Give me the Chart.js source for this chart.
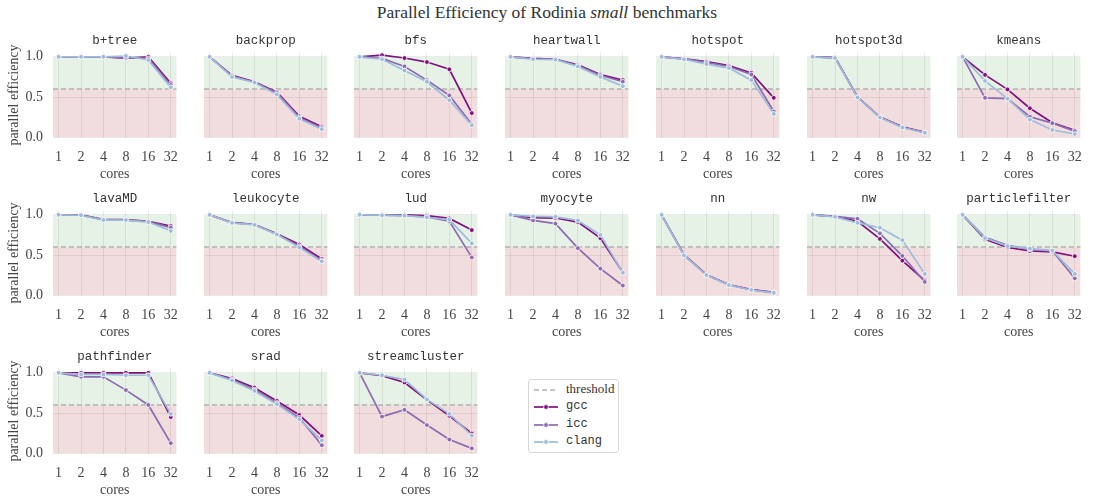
<!DOCTYPE html>
<html>
<head>
<meta charset="utf-8">
<script src="https://cdn.jsdelivr.net/npm/chart.js@4.4.1/dist/chart.umd.min.js"></script>
<style>
html, body { margin: 0; padding: 0; background: #fff; }
#wrap { position: relative; width: 1094px; height: 499px; overflow: hidden; }
#title { position: absolute; left: 0; top: 2px; width: 1094px; text-align: center;
         font: 17.5px "Liberation Serif", serif; color: #333; }
.cell { position: absolute; }
#legend { position: absolute; left: 528px; top: 379px; width: 89px; height: 72px;
          border: 1px solid #d6d6d6; border-radius: 3px; background: #fff; }
.item { position: absolute; left: 0; height: 14px; }
.item svg { position: absolute; left: 4px; top: 0; }
.item span { position: absolute; left: 37px; top: -1px; font-size: 12px; color: #333; white-space: nowrap; }
.serif { font-family: "Liberation Serif", serif; font-size: 13px !important; top: -2px !important; }
.mono { font-family: "Liberation Mono", monospace; }
</style>
</head>
<body>
<div id="wrap">
  <div id="title">Parallel Efficiency of Rodinia <i>small</i> benchmarks</div>
  <div id="legend"></div>
</div>
<script>
const cores = ['1', '2', '4', '8', '16', '32'];
const yTicks = [0, 0.5, 1.0];
const threshold = 0.6;
const benchmarks = ['b+tree', 'backprop', 'bfs', 'heartwall', 'hotspot', 'hotspot3d', 'kmeans',
                    'lavaMD', 'leukocyte', 'lud', 'myocyte', 'nn', 'nw', 'particlefilter',
                    'pathfinder', 'srad', 'streamcluster'];

const gcc = [
  [1.0, 1.0, 1.0, 0.985, 1.0, 0.67],
  [1.0, 0.77, 0.69, 0.56, 0.26, 0.13],
  [1.0, 1.02, 0.985, 0.935, 0.845, 0.30],
  [1.0, 0.98, 0.97, 0.90, 0.78, 0.71],
  [1.0, 0.975, 0.94, 0.89, 0.80, 0.49],
  [1.0, 0.99, 0.50, 0.25, 0.13, 0.06],
  [1.0, 0.775, 0.595, 0.36, 0.18, 0.085],
  [1.0, 1.0, 0.94, 0.94, 0.92, 0.86],
  [1.0, 0.905, 0.88, 0.765, 0.63, 0.45],
  [1.0, 1.0, 1.0, 0.99, 0.955, 0.81],
  [1.0, 0.965, 0.96, 0.91, 0.71, 0.285],
  [1.0, 0.50, 0.255, 0.13, 0.07, 0.035],
  [1.0, 0.98, 0.92, 0.70, 0.43, 0.18],
  [1.0, 0.695, 0.595, 0.55, 0.54, 0.485],
  [1.0, 1.0, 1.0, 1.0, 1.0, 0.45],
  [1.0, 0.93, 0.815, 0.65, 0.475, 0.215],
  [1.0, 0.965, 0.88, 0.665, 0.465, 0.245]
];
const icc = [
  [1.0, 1.0, 1.0, 0.99, 0.98, 0.65],
  [1.0, 0.76, 0.685, 0.55, 0.245, 0.115],
  [1.0, 0.98, 0.88, 0.71, 0.52, 0.16],
  [1.0, 0.975, 0.97, 0.89, 0.77, 0.69],
  [1.0, 0.975, 0.93, 0.88, 0.78, 0.32],
  [1.0, 0.99, 0.50, 0.25, 0.125, 0.058],
  [1.0, 0.49, 0.48, 0.255, 0.175, 0.075],
  [1.0, 0.995, 0.94, 0.935, 0.915, 0.84],
  [1.0, 0.90, 0.88, 0.76, 0.61, 0.43],
  [1.0, 0.995, 0.99, 0.975, 0.92, 0.47],
  [1.0, 0.93, 0.89, 0.585, 0.33, 0.12],
  [1.0, 0.50, 0.255, 0.13, 0.068, 0.033],
  [1.0, 0.98, 0.95, 0.77, 0.49, 0.165],
  [1.0, 0.72, 0.62, 0.57, 0.55, 0.21],
  [1.0, 0.95, 0.95, 0.785, 0.60, 0.125],
  [1.0, 0.915, 0.79, 0.625, 0.44, 0.10],
  [1.0, 0.455, 0.54, 0.35, 0.17, 0.06]
];
const clang = [
  [1.0, 1.0, 1.0, 1.01, 0.96, 0.62],
  [1.0, 0.75, 0.68, 0.53, 0.23, 0.10],
  [1.0, 0.97, 0.83, 0.69, 0.46, 0.15],
  [1.0, 0.97, 0.965, 0.88, 0.75, 0.635],
  [1.0, 0.97, 0.91, 0.86, 0.71, 0.29],
  [1.0, 0.985, 0.495, 0.245, 0.12, 0.055],
  [1.0, 0.70, 0.48, 0.22, 0.09, 0.04],
  [1.0, 0.995, 0.935, 0.935, 0.91, 0.80],
  [1.0, 0.90, 0.875, 0.755, 0.595, 0.42],
  [1.0, 0.995, 0.99, 0.97, 0.94, 0.645],
  [1.0, 0.98, 0.975, 0.93, 0.75, 0.28],
  [1.0, 0.495, 0.25, 0.125, 0.065, 0.03],
  [1.0, 0.975, 0.90, 0.84, 0.685, 0.265],
  [1.0, 0.71, 0.61, 0.58, 0.555, 0.265],
  [1.0, 0.98, 0.98, 0.97, 0.97, 0.49],
  [1.0, 0.905, 0.775, 0.61, 0.42, 0.16],
  [1.0, 0.97, 0.915, 0.67, 0.49, 0.22]
];

const compilers = ['gcc', 'icc', 'clang'];
const series = [gcc, icc, clang];
const colors = ['#810f7c', '#8c6bb1', '#9ebcda'];

const serif = '"Liberation Serif", serif';
const mono = '"Liberation Mono", monospace';
const textColor = '#444';
const gridColor = 'rgba(0,0,0,0.07)';

// background bands, threshold and panel title
const panelPlugin = {
  id: 'panel',
  beforeDraw(chart) {
    const { ctx, chartArea: { left, right }, scales: { y } } = chart;
    const top = y.getPixelForValue(1), mid = y.getPixelForValue(threshold), bot = y.getPixelForValue(0);
    ctx.save();
    ctx.fillStyle = 'rgb(230,242,230)';
    ctx.fillRect(left, top, right - left, mid - top);
    ctx.fillStyle = 'rgb(242,221,222)';
    ctx.fillRect(left, mid, right - left, bot - mid);
    ctx.restore();
  },
  beforeDatasetsDraw(chart) {
    const { ctx, chartArea: { left, right }, scales: { y } } = chart;
    const py = y.getPixelForValue(threshold);
    ctx.save();
    ctx.strokeStyle = '#b3b3b3';
    ctx.lineWidth = 1.6;
    ctx.setLineDash([5, 3]);
    ctx.beginPath();
    ctx.moveTo(left, py);
    ctx.lineTo(right, py);
    ctx.stroke();
    ctx.restore();
  },
  afterDraw(chart) {
    const { ctx, chartArea: { left, right, top } } = chart;
    ctx.save();
    ctx.font = '12.5px ' + mono;
    ctx.fillStyle = '#333';
    ctx.textAlign = 'center';
    ctx.textBaseline = 'middle';
    ctx.fillText(chart.options.panelTitle, (left + right) / 2, top - 11);
    ctx.restore();
  }
};

const wrap = document.getElementById('wrap');
const COLS = 7, PITCH_X = 150.7, PITCH_Y = 158, AXW = 53, PLOTW = 136, CH = 166;

benchmarks.forEach((name, b) => {
  const col = b % COLS, row = Math.floor(b / COLS);
  const div = document.createElement('div');
  div.className = 'cell';
  const left = Math.round(53 + PITCH_X * col) - AXW;
  div.style.left = left + 'px';
  div.style.top = (20 + PITCH_Y * row) + 'px';
  const canvas = document.createElement('canvas');
  canvas.width = AXW + PLOTW;
  canvas.height = CH;
  canvas.style.width = canvas.width + 'px';
  canvas.style.height = CH + 'px';
  div.appendChild(canvas);
  wrap.appendChild(div);

  const first = col === 0;
  new Chart(canvas, {
    type: 'line',
    data: {
      datasets: compilers.map((c, s) => ({
        label: c,
        data: series[s][b].map((v, i) => ({ x: i, y: v })),
        borderColor: colors[s],
        backgroundColor: colors[s],
        pointBackgroundColor: colors[s],
        pointBorderColor: '#fff',
        pointBorderWidth: 0.8,
        pointRadius: 2.4,
        borderWidth: 1.7,
        order: 3 - s
      }))
    },
    options: {
      panelTitle: name,
      responsive: false,
      animation: false,
      devicePixelRatio: 1,
      layout: { padding: { top: 32, left: 0, right: 0, bottom: 0 } },
      plugins: { legend: { display: false }, tooltip: { enabled: false } },
      scales: {
        x: {
          type: 'linear',
          min: -0.25,
          max: 5.25,
          afterBuildTicks: s => { s.ticks = cores.map((c, i) => ({ value: i })); },
          afterFit: s => { s.height = 48; },
          ticks: {
            callback: v => cores[v],
            font: { family: serif, size: 14 },
            color: textColor,
            padding: 11,
            autoSkip: false,
            maxRotation: 0
          },
          grid: { color: gridColor, drawTicks: false },
          border: { display: false },
          title: {
            display: true, text: 'cores', color: textColor,
            font: { family: serif, size: 14 },
            padding: { top: 0, bottom: 3 }
          }
        },
        y: {
          min: -0.01,
          max: 1.06,
          afterBuildTicks: s => { s.ticks = yTicks.map(v => ({ value: v })); },
          afterFit: s => { s.width = AXW; },
          ticks: {
            display: first,
            callback: v => v.toFixed(1),
            font: { family: serif, size: 14 },
            color: textColor,
            padding: 10
          },
          grid: { color: gridColor, drawTicks: false },
          border: { display: false },
          title: {
            display: first, text: 'parallel efficiency', color: textColor,
            font: { family: serif, size: 14 },
            padding: { top: 6, bottom: 0 }
          }
        }
      }
    },
    plugins: [panelPlugin]
  });
});

// legend
const legend = document.getElementById('legend');
const entries = [['threshold', '#b3b3b3', true]].concat(compilers.map((c, s) => [c, colors[s], false]));
entries.forEach(([label, color, dashed], k) => {
  const item = document.createElement('div');
  item.className = 'item';
  item.style.top = (3 + k * 17.3) + 'px';
  const line = dashed
    ? `<line x1="1" y1="7" x2="25" y2="7" stroke="${color}" stroke-width="1.6" stroke-dasharray="5,3"/>`
    : `<line x1="1" y1="7" x2="25" y2="7" stroke="${color}" stroke-width="1.7"/><circle cx="13" cy="7" r="2.4" fill="${color}" stroke="#fff" stroke-width="0.8"/>`;
  item.innerHTML = `<svg width="28" height="14">${line}</svg><span class="${dashed ? 'serif' : 'mono'}">${label}</span>`;
  legend.appendChild(item);
});
</script>
</body>
</html>
